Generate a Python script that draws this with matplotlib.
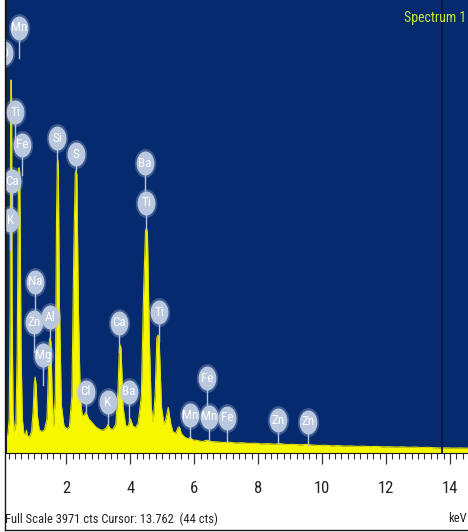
import numpy as np
import matplotlib
matplotlib.use('Agg')
import matplotlib.pyplot as plt
from matplotlib import font_manager
from matplotlib.ticker import MultipleLocator
from matplotlib.lines import Line2D

# narrow font if there is one, the picture uses a condensed face
names = {f.name for f in font_manager.fontManager.ttflist}
narrow = None
for cand in ['Liberation Sans Narrow', 'Arial Narrow', 'Roboto Condensed', 'Open Sans Condensed']:
    if cand in names:
        narrow = cand
        break
condensed_dejavu = any(f.name == 'DejaVu Sans' and str(f.stretch) in ('condensed', '300')
                       for f in font_manager.fontManager.ttflist)
if narrow:
    plt.rcParams['font.family'] = [narrow, 'DejaVu Sans']
    stretch, scale = 'normal', 1.0
elif condensed_dejavu:
    plt.rcParams['font.family'] = ['DejaVu Sans']
    stretch, scale = 'condensed', 0.9
else:
    plt.rcParams['font.family'] = ['DejaVu Sans']
    stretch, scale = 'normal', 0.76
plt.rcParams['font.stretch'] = stretch

# EDS spectrum (keV, counts)
energy = [0.12, 0.18, 0.22, 0.25, 0.265, 0.28, 0.295, 0.31, 0.34, 0.38, 0.43, 0.47,
          0.50, 0.515, 0.53, 0.545, 0.56, 0.59, 0.63, 0.68, 0.73, 0.76, 0.79, 0.85,
          0.92, 0.97, 1.00, 1.03, 1.06, 1.10, 1.16, 1.24, 1.32, 1.40, 1.45, 1.475,
          1.50, 1.525, 1.56, 1.61, 1.66, 1.70, 1.725, 1.74, 1.755, 1.79, 1.85, 1.93,
          2.02, 2.10, 2.18, 2.24, 2.285, 2.31, 2.335, 2.38, 2.44, 2.50, 2.56, 2.62,
          2.70, 2.80, 2.92, 3.05, 3.16, 3.25, 3.31, 3.37, 3.45, 3.55, 3.62, 3.665,
          3.69, 3.715, 3.78, 3.86, 3.94, 4.01, 4.08, 4.16, 4.25, 4.35, 4.42, 4.48,
          4.51, 4.54, 4.60, 4.66, 4.72, 4.78, 4.835, 4.87, 4.905, 4.98, 5.06, 5.12,
          5.19, 5.26, 5.33, 5.42, 5.50, 5.54, 5.60, 5.70, 5.80, 5.88, 5.96, 6.10,
          6.25, 6.40, 6.55, 6.70, 6.90, 7.10, 7.30, 7.50, 7.70, 7.90, 8.10, 8.30,
          8.50, 8.70, 8.90, 9.10, 9.30, 9.50, 9.70, 9.90, 10.1, 10.3, 10.5, 10.7,
          10.9, 11.1, 11.3, 11.5, 11.7, 11.9, 12.1, 12.3, 12.5, 12.7, 12.9, 13.1,
          13.3, 13.5, 13.7, 13.9, 14.1, 14.3, 14.6]
counts = [150, 170, 300, 1300, 3100, 3270, 3100, 1300, 350, 190, 260, 900,
          2100, 2470, 2500, 2470, 2100, 900, 300, 170, 160, 200, 150, 140,
          190, 380, 600, 666, 600, 330, 200, 190, 200, 300, 750, 990,
          1010, 970, 520, 230, 500, 2100, 2540, 2568, 2520, 1300, 420, 240,
          210, 230, 500, 1800, 2450, 2481, 2440, 1300, 500, 330, 330, 360,
          300, 270, 230, 205, 200, 220, 250, 215, 205, 250, 550, 930,
          947, 920, 400, 240, 235, 300, 240, 220, 260, 500, 1400, 1950,
          1972, 1930, 1000, 400, 270, 500, 1010, 1034, 1000, 400, 250, 300,
          400, 270, 190, 170, 225, 228, 170, 140, 125, 135, 115, 110,
          100, 112, 100, 98, 92, 95, 88, 90, 84, 86, 80, 82,
          78, 82, 74, 76, 72, 75, 70, 66, 68, 63, 65, 60,
          62, 58, 60, 56, 58, 54, 55, 52, 54, 50, 52, 48,
          50, 46, 44, 45, 43, 44, 42]

# element labels (text, keV, counts)
label_text = ['O', 'Mn', 'Ti', 'Fe', 'Ca', 'K', 'Si', 'S', 'Ba', 'Ti', 'Na', 'Zn',
              'Al', 'Mg', 'Ca', 'Cl', 'K', 'Ba', 'Ti', 'Fe', 'Mn', 'Mn', 'Fe', 'Zn', 'Zn']
label_kev = [0.06, 0.53, 0.41, 0.63, 0.31, 0.25, 1.72, 2.31, 4.47, 4.50, 1.03, 1.00,
             1.50, 1.28, 3.66, 2.62, 3.31, 3.97, 4.91, 6.41, 5.88, 6.47, 7.03, 8.63, 9.56]
label_cts = [3506, 3726, 2989, 2700, 2384, 2042, 2761, 2621, 2542, 2192, 1499, 1148,
             1192, 859, 1140, 535, 447, 535, 1236, 657, 333, 316, 307, 289, 272]

full_scale = 3971
cursor_kev = 13.762

fig = plt.figure(figsize=(4.68, 5.32), dpi=100)
ax = fig.add_axes([6/468, 79/532, 462/468, 453/532])
ax.set_facecolor('#062a6e')

ax.fill_between(energy, counts, 0, color='#f7f700', lw=0, zorder=2)
ax.plot(energy, counts, color='#dede00', lw=0.8, zorder=2)
ax.axvline(cursor_kev, color='#0a1a42', lw=1.3, zorder=3)

ax.set_xlim(0.12, 14.56)
ax.set_ylim(0, full_scale)

# balloons with stems
w = np.linspace(0, 2*np.pi, 60)
balloon = list(zip(0.74*np.cos(w), np.sin(w)))
stem_cap = full_scale * 30 / 453
for t, e, c in zip(label_text, label_kev, label_cts):
    end = max(np.interp(e, energy, counts), c - stem_cap)
    ax.plot([e, e], [c, end], color='#b4c3dc', lw=1, zorder=4)
    ax.scatter([e], [c], s=430, marker=balloon, color='#bccae0', alpha=0.3, lw=0, zorder=5)
    ax.scatter([e], [c], s=300, marker=balloon, color='#b9c7df', lw=0, zorder=5)
    ax.text(e, c, t, color='white', fontsize=9.5*scale, ha='center', va='center',
            zorder=6, clip_on=True)

ax.set_yticks([])
ax.xaxis.set_major_locator(MultipleLocator(2))
ax.xaxis.set_minor_locator(MultipleLocator(0.2))
ax.tick_params(axis='x', which='major', length=8, width=0.9, color='#333333',
               pad=12, labelsize=12*scale, labelcolor='#222222')
ax.tick_params(axis='x', which='minor', length=4.5, width=0.8, color='#333333')
for s in ['top', 'right']:
    ax.spines[s].set_visible(False)
ax.spines['bottom'].set_color('#1a1a1a')
ax.spines['left'].set_color('#1a1a1a')

fig.text(0.997, 1 - 18/532, 'Spectrum 1', color='#c8e632', fontsize=10*scale,
         va='center', ha='right')
fig.text(5/468, 1 - 519/532, 'Full Scale 3971 cts Cursor: 13.762  (44 cts)',
         fontsize=9.0*scale, va='center', color='#222222')
fig.text(0.997, 1 - 519/532, 'keV', fontsize=9.0*scale, va='center', ha='right',
         color='#222222')

fig.add_artist(Line2D([5/468, 5/468], [1 - 530/532, 1], color='#1a1a1a', lw=1))
fig.add_artist(Line2D([5/468, 1], [1 - 530/532, 1 - 530/532], color='#1a1a1a', lw=1))

fig.savefig('out.png', dpi=100)
